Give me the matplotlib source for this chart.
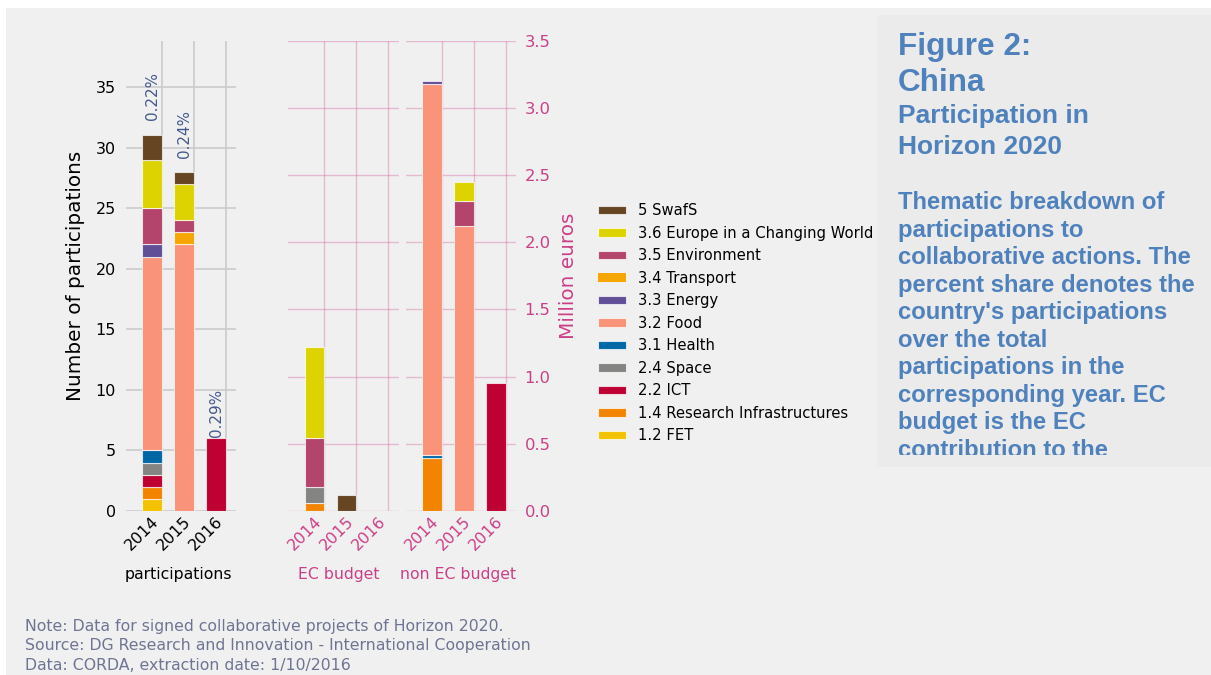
import matplotlib
matplotlib.use('Agg')
import matplotlib.pyplot as plt
from matplotlib.patches import Rectangle
import numpy as np

# ---------------- data ----------------
years = ['2014', '2015', '2016']
categories = ['1.2 FET', '1.4 Research Infrastructures', '2.2 ICT', '2.4 Space',
              '3.1 Health', '3.2 Food', '3.3 Energy', '3.4 Transport',
              '3.5 Environment', '3.6 Europe in a Changing World', '5 SwafS']
colors = ['#f3c300', '#f38400', '#be0032', '#848482', '#0067a5', '#f99379',
          '#604e97', '#f6a600', '#b3446c', '#dcd300', '#654522']

# number of participations per category (order as in `categories`)
participations_2014 = [1, 1, 1, 1, 1, 16, 1, 0, 3, 4, 2]
participations_2015 = [0, 0, 0, 0, 0, 22, 0, 1, 1, 3, 1]
participations_2016 = [0, 0, 6, 0, 0, 0, 0, 0, 0, 0, 0]

# EC budget, million euros
ec_budget_2014 = [0, 0.062, 0, 0.114, 0, 0, 0, 0, 0.367, 0.676, 0]
ec_budget_2015 = [0, 0, 0, 0, 0, 0, 0, 0, 0, 0, 0.120]
ec_budget_2016 = [0, 0, 0, 0, 0, 0, 0, 0, 0, 0, 0]

# non EC budget, million euros
nonec_budget_2014 = [0, 0.395, 0, 0, 0.02, 2.762, 0.02, 0, 0, 0, 0]
nonec_budget_2015 = [0, 0, 0, 0, 0, 2.121, 0, 0, 0.187, 0.138, 0]
nonec_budget_2016 = [0, 0, 0.95, 0, 0, 0, 0, 0, 0, 0, 0]

share_labels = ['0.22%', '0.24%', '0.29%']
share_offsets = [1.3, 1.1, 0.1]   # layout offsets above bars

title_lines = ['Figure 2:', 'China']
subtitle_lines = ['Participation in', 'Horizon 2020']
paragraph_lines = ['Thematic breakdown of', 'participations to',
                   'collaborative actions. The', 'percent share denotes the',
                   "country's participations", 'over the total',
                   'participations in the', 'corresponding year. EC',
                   'budget is the EC', 'contribution to the']
note_lines = ['Note: Data for signed collaborative projects of Horizon 2020.',
              'Source: DG Research and Innovation - International Cooperation',
              'Data: CORDA, extraction date: 1/10/2016']

# ---------------- style ----------------
W, H = 1211, 675
BG = '#f0f0f0'
PINK = '#cc3f88'
GRID = '#cbcbcb'
BLUE = '#4f81bd'

fig = plt.figure(figsize=(W / 100, H / 100), dpi=100, facecolor='white')
fig.add_artist(Rectangle((6 / W, 0), 1, 1 - 8 / H, transform=fig.transFigure,
                         facecolor=BG, edgecolor='none', zorder=-10))

bottom = 1 - 511 / H
height = 470.3 / H
width = 110.7 / W
ax1 = fig.add_axes([125.5 / W, bottom, width, height])
ax2 = fig.add_axes([288.1 / W, bottom, width, height])
ax3 = fig.add_axes([405.5 / W, bottom, width, height])

x = np.arange(len(years))


def draw_stack(ax, per_year):
    data = np.array(per_year, dtype=float).T
    base = np.zeros(len(years))
    for i, cat in enumerate(categories):
        vals = data[i]
        lw = np.where(vals > 0, 0.8, 0.0)
        ax.bar(x, vals, width=-0.6, align='edge', bottom=base, color=colors[i],
               edgecolor=(1, 1, 1, 0.7), linewidth=lw, label=cat, zorder=3)
        base = base + vals
    return base


tot1 = draw_stack(ax1, [participations_2014, participations_2015, participations_2016])
draw_stack(ax2, [ec_budget_2014, ec_budget_2015, ec_budget_2016])
draw_stack(ax3, [nonec_budget_2014, nonec_budget_2015, nonec_budget_2016])

for ax in (ax1, ax2, ax3):
    ax.set_facecolor('none')
    ax.set_xlim(-1.13, 2.33)
    ax.set_xticks(x)
    ax.set_xticklabels(years, rotation=45, ha='right', fontsize=11.5)
    ax.tick_params(length=0)
    for s in ax.spines.values():
        s.set_visible(False)
    ax.set_axisbelow(True)

ax1.set_ylim(0, 38.82)
ax1.set_yticks(np.arange(0, 36, 5))
ax1.grid(True, color=GRID, linewidth=1.2)
ax1.tick_params(axis='y', labelsize=11.5, pad=7)
ax1.tick_params(axis='x', pad=2)
ax1.set_ylabel('Number of participations', fontsize=14.4)
ax1.yaxis.set_label_coords(-0.366, 0.5)
ax1.set_xlabel('participations', fontsize=11.3, color='black')
ax1.xaxis.set_label_coords(0.479, -0.119)

for i, lab in enumerate(share_labels):
    ax1.text(x[i] - 0.3, tot1[i] + share_offsets[i], lab, rotation=90,
             ha='center', va='bottom', fontsize=10.9, color='#44598c')

for ax in (ax2, ax3):
    ax.set_ylim(0, 3.5)
    ax.set_yticks(np.arange(0, 3.51, 0.5))
    ax.grid(True, color=PINK, alpha=0.3, linewidth=1.0)
    ax.tick_params(axis='x', colors=PINK, pad=2)

ax2.tick_params(axis='y', labelleft=False)
ax2.set_xlabel('EC budget', fontsize=11.3, color=PINK)
ax2.xaxis.set_label_coords(0.46, -0.119)

ax3.yaxis.tick_right()
ax3.tick_params(axis='y', labelright=True, labelleft=False, colors=PINK,
                labelsize=11.8, pad=6)
ax3.set_xlabel('non EC budget', fontsize=11.3, color=PINK)
ax3.xaxis.set_label_coords(0.474, -0.119)
ax3.yaxis.set_label_position('right')
ax3.set_ylabel('Million euros', fontsize=14.4, color=PINK, rotation=90)
ax3.yaxis.set_label_coords(1.388, 0.5)

# legend (reversed order)
handles, labels = ax1.get_legend_handles_labels()
fig.legend(handles[::-1], labels[::-1], loc='center left',
           bbox_to_anchor=(598 / W, 1 - 323.2 / H), frameon=False,
           fontsize=10.6, handlelength=1.9, handleheight=0.5,
           handletextpad=0.82, labelspacing=0.51, borderpad=0,
           borderaxespad=0)

# ---------------- right text panel ----------------
px0, py0, py1 = 877, 15, 466.6
fig.add_artist(Rectangle((px0 / W, 1 - py1 / H), 1 - px0 / W, (py1 - py0) / H,
                         transform=fig.transFigure, facecolor='#ebebeb',
                         edgecolor='none', zorder=-5))
clip_bottom = 455
pan = fig.add_axes([px0 / W, 1 - clip_bottom / H, 1 - px0 / W,
                    (clip_bottom - py0) / H])
pan.set_facecolor('none')
pan.set_xlim(px0, W)
pan.set_ylim(clip_bottom, py0)
pan.set_xticks([])
pan.set_yticks([])
for s in pan.spines.values():
    s.set_visible(False)

font_kw = dict(family=['Liberation Sans', 'DejaVu Sans'], weight='bold',
               color=BLUE, va='baseline', ha='left', clip_on=True)
tx = 898
y = 55
for line in title_lines:
    pan.text(tx, y, line, fontsize=22.7, **font_kw)
    y += 36
y = 122.7
for line in subtitle_lines:
    pan.text(tx, y, line, fontsize=19, **font_kw)
    y += 31.3
y = 209.3
for line in paragraph_lines:
    pan.text(tx, y, line, fontsize=17.2, **font_kw)
    y += 27.5

# ---------------- notes ----------------
for i, line in enumerate(note_lines):
    fig.text(25 / W, 1 - (626 + 19.5 * i) / H, line, fontsize=11.3,
             color='#6e7593', va='center', ha='left')

fig.savefig('out.png', dpi=100, facecolor=fig.get_facecolor())
